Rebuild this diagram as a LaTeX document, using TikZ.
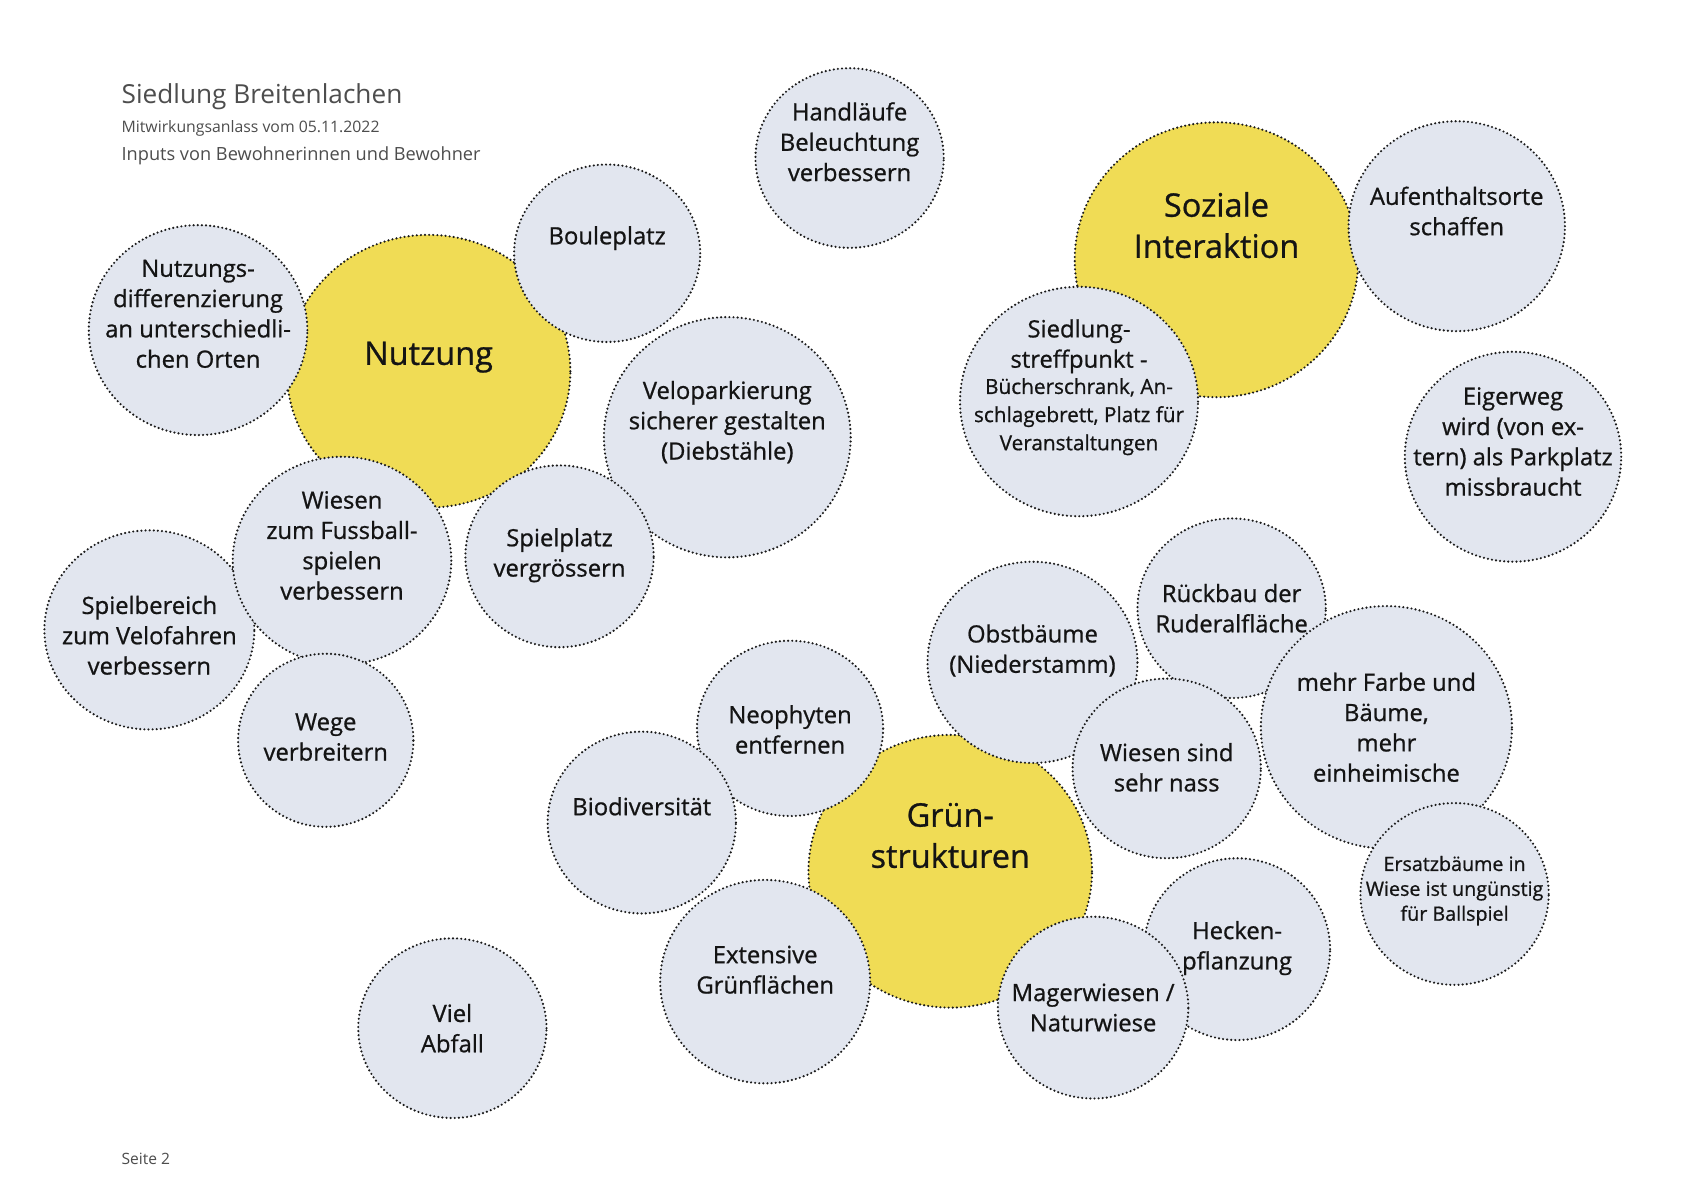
\documentclass[tikz,border=0pt]{standalone}
\usepackage{fontspec}
\setmainfont{Open Sans}
\newfontfamily\bubfont{Open Sans}[FakeBold=0.8]
\usetikzlibrary{shapes.geometric}
\definecolor{bub}{HTML}{E2E6EF}
\definecolor{yel}{HTML}{F0DC55}
\definecolor{ink}{HTML}{141414}
\definecolor{dots}{HTML}{1A1A1A}
\definecolor{tgray}{HTML}{4D4D4D}
\tikzset{
  dotline/.style={draw=dots, line width=1.1pt, line cap=round, dash pattern=on 0pt off 1.9pt},
  bubble/.style={ellipse, inner sep=0pt, outer sep=0pt, fill=bub, dotline},
  hub/.style={ellipse, inner sep=0pt, outer sep=0pt, fill=yel, dotline},
  lbl/.style={align=center, inner sep=0pt, text=ink, font=\bubfont\fontsize{11}{14}\selectfont},
  smalllbl/.style={align=center, inner sep=0pt, text=ink, font=\bubfont\fontsize{9.6}{13}\selectfont},
  tinylbl/.style={align=center, inner sep=0pt, text=ink, font=\bubfont\fontsize{9.1}{11.5}\selectfont},
  biglbl/.style={align=center, inner sep=0pt, text=ink, font=\bubfont\fontsize{15}{19}\selectfont},
  head/.style={anchor=west, inner sep=0pt, text=tgray}
}
% paint order matters: later bubbles cover earlier ones
\def\bubbles{diff/183/305/101/97, boule/561/234/86/82, velo/672/404/114/111,
  spiel/517/514/87/84, velofa/138/582/97/92, fuss/316/518/101/96,
  wege/301/684/81/80, hand/785/146/87/83, aufent/1346/209/100/97,
  treff/997/371/110/106, eiger/1398/422/100/97, rueck/1138/562/87/83,
  obst/954/612/97/93, nass/1078/710/87/83, farbe/1281/672/116/112,
  ersatz/1344/826/87/84, neo/730/673/86/81, bio/593/760/87/84,
  ext/707/907/97/94, hecken/1143/877/86/84, mager/1010/931/88/84,
  abfall/418/950/87/83}
\begin{document}
\begin{tikzpicture}[x=0.5pt,y=-0.5pt]
\useasboundingbox (0,0) rectangle (1568,1109);
\fill[white] (0,0) rectangle (1568,1109);

% yellow hubs
\node[hub, minimum width=131pt, minimum height=126pt] (nutz) at (396,343) {};
\node[hub, minimum width=131pt, minimum height=127pt] (sozial) at (1124,240) {};
\node[hub, minimum width=131pt, minimum height=126pt] (gruen) at (878,805) {};

% grey bubbles
\foreach \n/\x/\y/\a/\b in \bubbles {
  \node[bubble, minimum width=\a pt, minimum height=\b pt] (\n) at (\x,\y) {};
}

% header
\node[head, font=\fontsize{12.1}{14}\selectfont] (title) at (112,89) {Siedlung Breitenlachen};
\node[head, font=\fontsize{7.3}{9}\selectfont] (sub1) at (112,119) {Mitwirkungsanlass vom 05.11.2022};
\node[head, font=\fontsize{8.4}{10}\selectfont] (sub2) at (112,144) {Inputs von Bewohnerinnen und Bewohner};
\node[head, font=\fontsize{7.2}{9}\selectfont] (page) at (112,1071) {Seite 2};

% hub labels
\node[biglbl] (nutz-t) at (396,330) {Nutzung};
\node[biglbl] (sozial-t) at (1124,208) {Soziale\\Interaktion};
\node[biglbl] (gruen-t) at (878,772) {Grün-\\strukturen};

% bubble labels
\node[lbl] (hand-t) at (785,131) {Handläufe\\Beleuchtung\\verbessern};
\node[lbl] (boule-t) at (561,220) {Bouleplatz};
\node[lbl] (diff-t) at (183,290) {Nutzungs-\\differenzierung\\an unterschiedli-\\chen Orten};
\node[lbl] (velo-t) at (672,390) {Veloparkierung\\sicherer gestalten\\(Diebstähle)};
\node[lbl] (fuss-t) at (316,504) {Wiesen\\zum Fussball-\\spielen\\verbessern};
\node[lbl] (spiel-t) at (517,513) {Spielplatz\\vergrössern};
\node[lbl] (velofa-t) at (138,587) {Spielbereich\\zum Velofahren\\verbessern};
\node[lbl] (wege-t) at (301,681) {Wege\\verbreitern};
\node[lbl] (aufent-t) at (1346,195) {Aufenthaltsorte\\schaffen};
\node[lbl] (treff-t) at (997,320) {Siedlung-\\streffpunkt -};
\node[smalllbl] (treff-t2) at (997,385) {Bücherschrank, An-\\schlagebrett, Platz für\\Veranstaltungen};
\node[lbl] (eiger-t) at (1398,408) {Eigerweg\\wird (von ex-\\tern) als Parkplatz\\missbraucht};
\node[lbl] (rueck-t) at (1138,562) {Rückbau der\\Ruderalfläche};
\node[lbl] (obst-t) at (954,601) {Obstbäume\\(Niederstamm)};
\node[lbl] (farbe-t) at (1281,672) {mehr Farbe und\\Bäume,\\mehr\\einheimische};
\node[lbl] (neo-t) at (730,674) {Neophyten\\entfernen};
\node[lbl] (nass-t) at (1078,709) {Wiesen sind\\sehr nass};
\node[lbl] (bio-t) at (593,745) {Biodiversität};
\node[tinylbl] (ersatz-t) at (1344,823) {Ersatzbäume in\\Wiese ist ungünstig\\für Ballspiel};
\node[lbl] (hecken-t) at (1143,876) {Hecken-\\pflanzung};
\node[lbl] (ext-t) at (707,896) {Extensive\\Grünflächen};
\node[lbl] (mager-t) at (1010,931) {Magerwiesen /\\Naturwiese};
\node[lbl] (abfall-t) at (418,950) {Viel\\Abfall};
\end{tikzpicture}
\end{document}
